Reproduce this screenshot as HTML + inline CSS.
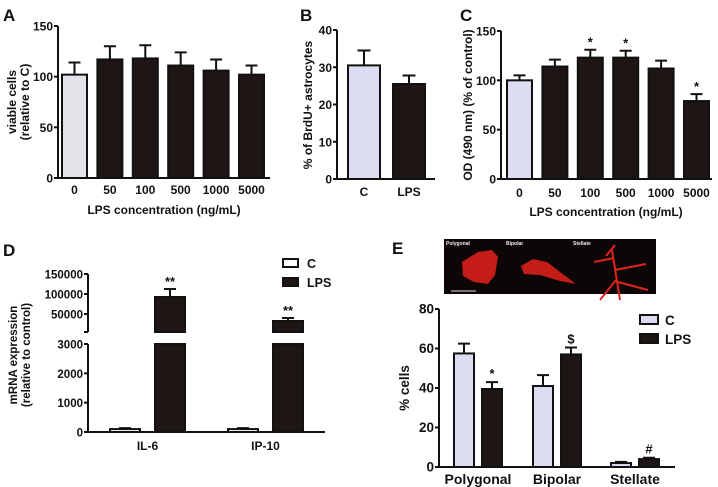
<!DOCTYPE html>
<html><head><meta charset="utf-8"><style>
html,body{margin:0;padding:0;background:#fff;}
svg{display:block;font-family:"Liberation Sans",Arial,sans-serif;font-weight:bold;}
</style></head><body>
<svg id="fig" width="718" height="487" viewBox="0 0 718 487">
<g id="root"></g>
</svg>
<script>
// Panel A
const aCats=["0","50","100","500","1000","5000"];
const aVals=[102,117,118,111,106,102];
const aErr=[12,13,13,13,11,9];
const aTicks=[0,50,100,150];
// Panel B
const bCats=["C","LPS"];
const bVals=[30.5,25.5];
const bErr=[4,2.3];
const bTicks=[0,10,20,30,40];
// Panel C
const cCats=["0","50","100","500","1000","5000"];
const cVals=[100,114,123,123,112,79];
const cErr=[5,7,8,7,8,7];
const cStars=["","","*","*","","*"];
const cTicks=[0,50,100,150];
// Panel D
const dCats=["IL-6","IP-10"];
const dCtrl=[100,100];
const dCtrlErr=[30,30];
const dLps=[92500,32500];
const dLpsErr=[20000,7500];
const dStars=["**","**"];
const dLowTicks=[0,1000,2000,3000];
const dHighTicks=[50000,100000,150000];
// Panel E
const eCats=["Polygonal","Bipolar","Stellate"];
const eCtrl=[57.5,41,2];
const eCtrlErr=[5,5.5,0.6];
const eLps=[39.5,57,4];
const eLpsErr=[3.5,3.5,0.7];
const eMarks=["*","$","#"];
const eTicks=[0,20,40,60,80];

const NS="http://www.w3.org/2000/svg";
const root=document.getElementById('root');
const DARK="#1e1515", LAV="#dcdcf2", GRAY="#e2e2e8";
function el(tag,attrs,parent,txt){const e=document.createElementNS(NS,tag);for(const k in attrs)e.setAttribute(k,attrs[k]);if(txt!==undefined)e.textContent=txt;(parent||root).appendChild(e);return e;}
function lin(d0,d1,r0,r1){return v=>r0+(v-d0)*(r1-r0)/(d1-d0);}
function bar(g,x,w,y0,y,fill,name){const r=el('rect',{x:x,y:Math.min(y,y0),width:w,height:Math.abs(y0-y),fill:fill,stroke:"#111","stroke-width":2},g);return r;}
function err(g,cx,w,y,ye,name){const p=el('path',{d:`M${cx},${y}V${ye}M${cx-w/2},${ye}H${cx+w/2}`,stroke:"#111","stroke-width":2,fill:"none"},g);}
function txt(g,x,y,s,size,anchor,name,extra){const t=el('text',Object.assign({x:x,y:y,"font-size":size,"text-anchor":anchor||"middle",fill:"#111"},extra||{}),g,s);return t;}
function yaxis(g,x,y0,y1,ticks,sc,fs,name){const a=el('line',{x1:x,x2:x,y1:y0,y2:y1,stroke:"#111","stroke-width":2},g);
 ticks.forEach(t=>{const y=sc(t);el('line',{x1:x-4,x2:x,y1:y,y2:y,stroke:"#111","stroke-width":2},g);txt(g,x-5,y+4.5,String(t),fs,"end",'y-tick-label');});}
function xaxis(g,x0,x1,y,name){const a=el('line',{x1:x0,x2:x1,y1:y,y2:y,stroke:"#111","stroke-width":2},g);}
function panel(name){const g=el('g',{},root);return g;}

// ---- A ----
(function(){const g=panel('panel-a');const sy=lin(0,150,178,26);
 txt(g,3,21,"A",17,"start",'panel-label-a');
 const x0=62,step=35.4,w=25;
 aVals.forEach((v,i)=>{const x=x0+i*step;err(g,x+w/2,12,sy(v),sy(v+aErr[i]),'error-bar');bar(g,x,w,sy(0),sy(v),i==0?GRAY:DARK,'bar-'+aCats[i]);txt(g,x+w/2,194,aCats[i],12,"middle",'x-tick-label');});
 yaxis(g,58,sy(0),sy(150),aTicks,sy,12,'y-axis');xaxis(g,58,270,sy(0),'x-axis');
 txt(g,164,214,"LPS concentration (ng/mL)",12,"middle",'x-axis-title');
 txt(g,0,0,"viable cells",12,"middle",'y-axis-title',{transform:"translate(16,102) rotate(-90)"});
 txt(g,0,0,"(relative to C)",12,"middle",'y-axis-title',{transform:"translate(29,102) rotate(-90)"});
})();
// ---- B ----
(function(){const g=panel('panel-b');const sy=lin(0,40,179,30);
 txt(g,300,21,"B",17,"start",'panel-label-b');
 const xs=[348,393],w=32;
 bVals.forEach((v,i)=>{const x=xs[i];err(g,x+w/2,13,sy(v),sy(v+bErr[i]),'error-bar');bar(g,x,w,sy(0),sy(v),i==0?LAV:DARK,'bar-'+bCats[i]);txt(g,x+w/2,196,bCats[i],12,"middle",'x-tick-label');});
 yaxis(g,337,sy(0),sy(40),bTicks,sy,12,'y-axis');xaxis(g,337,435,sy(0),'x-axis');
 txt(g,0,0,"% of BrdU+ astrocytes",12,"middle",'y-axis-title',{transform:"translate(312,105) rotate(-90)"});
})();
// ---- C ----
(function(){const g=panel('panel-c');const sy=lin(0,150,179,31);
 txt(g,460,21,"C",17,"start",'panel-label-c');
 const x0=507,step=35.4,w=25;
 cVals.forEach((v,i)=>{const x=x0+i*step;err(g,x+w/2,12,sy(v),sy(v+cErr[i]),'error-bar');bar(g,x,w,sy(0),sy(v),i==0?LAV:DARK,'bar-'+cCats[i]);txt(g,x+w/2,197,cCats[i],12,"middle",'x-tick-label');
  if(cStars[i])txt(g,x+w/2,sy(v+cErr[i])-3,cStars[i],13,"middle",'significance-star');});
 yaxis(g,501,sy(0),sy(150),cTicks,sy,12,'y-axis');xaxis(g,501,712,sy(0),'x-axis');
 txt(g,606,216,"LPS concentration (ng/mL)",12,"middle",'x-axis-title');
 txt(g,0,0,"OD (490 nm) (% of control)",12,"middle",'y-axis-title',{transform:"translate(472,105) rotate(-90)"});
})();
// ---- D ----
(function(){const g=panel('panel-d');const lo=lin(0,3000,432,344);const hi=lin(50000,150000,314,274);
 const yv=v=>v<=3000?lo(v):Math.max(hi(v),0);
 txt(g,3,256,"D",17,"start",'panel-label-d');
 const ax=88;
 el('line',{x1:ax,x2:ax,y1:432,y2:344,stroke:"#111","stroke-width":2},g);
 el('line',{x1:ax,x2:ax,y1:332,y2:274,stroke:"#111","stroke-width":2},g);
 el('line',{x1:ax-4,x2:ax,y1:332,y2:332,stroke:"#111","stroke-width":2},g);
 dLowTicks.forEach(t=>{el('line',{x1:ax-4,x2:ax,y1:lo(t),y2:lo(t),stroke:"#111","stroke-width":2},g);txt(g,ax-5,lo(t)+4.5,String(t),11.5,"end",'y-tick-label');});
 dHighTicks.forEach(t=>{el('line',{x1:ax-4,x2:ax,y1:hi(t),y2:hi(t),stroke:"#111","stroke-width":2},g);txt(g,ax-5,hi(t)+4.5,String(t),11.5,"end",'y-tick-label');});
 const groups=[110,228],w=30,gap=45;
 dCats.forEach((c,i)=>{const xc=groups[i],xl=groups[i]+gap;
  err(g,xc+w/2,12,lo(dCtrl[i]),lo(dCtrl[i]+dCtrlErr[i]),'error-bar');bar(g,xc,w,lo(0),lo(dCtrl[i]),"#fff",'bar-c-'+c);
  // LPS broken bar
  const top=hi(dLps[i]);
  err(g,xl+w/2,12,top,hi(dLps[i]+dLpsErr[i]),'error-bar');
  bar(g,xl,w,332,top,DARK,'bar-lps-upper-'+c);
  bar(g,xl,w,lo(0),lo(3000),DARK,'bar-lps-lower-'+c);
  txt(g,xl+w/2,hi(dLps[i]+dLpsErr[i])-3,dStars[i],13,"middle",'significance-star');
  txt(g,(xc+xl+w)/2,450,c,12,"middle",'x-tick-label');});
 xaxis(g,88,325,432,'x-axis');
 txt(g,0,0,"mRNA expression",11.5,"middle",'y-axis-title',{transform:"translate(17,355) rotate(-90)"});
 txt(g,0,0,"(relative to control)",11.5,"middle",'y-axis-title',{transform:"translate(30,355) rotate(-90)"});
 const l1=el('rect',{x:283,y:259,width:15,height:8,fill:"#fff",stroke:"#111","stroke-width":2},g);
 txt(g,307,268,"C",12.5,"start",'legend-label-c');
 const l2=el('rect',{x:283,y:278,width:15,height:8,fill:DARK,stroke:"#111","stroke-width":2},g);
 txt(g,307,287,"LPS",12.5,"start",'legend-label-lps');
})();
// ---- E ----
(function(){const g=panel('panel-e');const sy=lin(0,80,467,309);
 txt(g,392,254,"E",17,"start",'panel-label-e');
 // micrograph strip
 const im=el('g',{},g);
 el('rect',{x:444,y:239,width:212,height:55,fill:"#0d0606"},im);
 el('path',{d:"M462,262 L478,252 L492,250 L498,257 L495,275 L488,284 L474,282 L463,276 Z",fill:"#d8201a",opacity:0.9},im);
 el('path',{d:"M521,266 L533,259 L547,262 L560,272 L576,284 L560,281 L540,275 L524,274 Z",fill:"#d8201a",opacity:0.9},im);
 el('path',{d:"M606,256 L615,245 M612,250 L620,300 M615,270 L646,264 M616,280 L600,300 M618,282 L648,290 M614,258 L594,262",stroke:"#e0241c","stroke-width":2,fill:"none"},im);
 el('line',{x1:451,x2:476,y1:291,y2:291,stroke:"#ddd","stroke-width":1},im);
 [["Polygonal",446],["Bipolar",506],["Stellate",573]].forEach(a=>txt(im,a[1],245,a[0],5,"start",'micrograph-label',{fill:"#eee"}));
 const x0=[454,533,611],w=20,gap=28;
 eCats.forEach((c,i)=>{const xc=x0[i],xl=x0[i]+gap;
  err(g,xc+w/2,12,sy(eCtrl[i]),sy(eCtrl[i]+eCtrlErr[i]),'error-bar');bar(g,xc,w,sy(0),sy(eCtrl[i]),LAV,'bar-c-'+c);
  err(g,xl+w/2,12,sy(eLps[i]),sy(eLps[i]+eLpsErr[i]),'error-bar');bar(g,xl,w,sy(0),sy(eLps[i]),DARK,'bar-lps-'+c);
  txt(g,xl+w/2,sy(eLps[i]+eLpsErr[i])-4,eMarks[i],13,"middle",'significance-mark');
  txt(g,(xc+xl+w)/2,484,c,14,"middle",'x-tick-label');});
 yaxis(g,439,sy(0),sy(80),eTicks,sy,13.5,'y-axis');xaxis(g,439,675,sy(0),'x-axis');
 txt(g,0,0,"% cells",13.5,"middle",'y-axis-title',{transform:"translate(409,388) rotate(-90)"});
 const l1=el('rect',{x:640,y:315,width:18,height:9,fill:LAV,stroke:"#111","stroke-width":2},g);
 txt(g,665,325,"C",13.5,"start",'legend-label-c');
 const l2=el('rect',{x:640,y:334,width:18,height:9,fill:DARK,stroke:"#111","stroke-width":2},g);
 txt(g,665,344,"LPS",13.5,"start",'legend-label-lps');
})();
</script>
</body></html>
